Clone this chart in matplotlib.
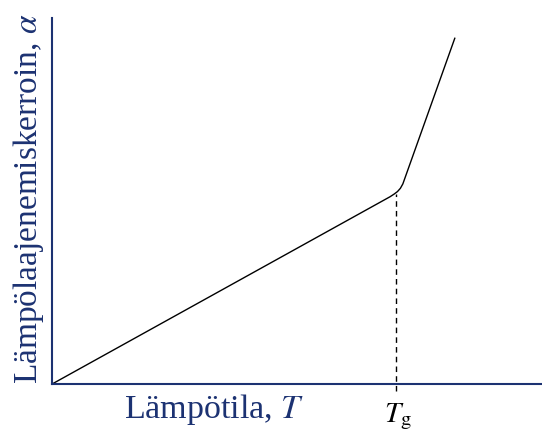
import matplotlib
matplotlib.use('Agg')
import matplotlib.pyplot as plt

plt.rcParams['font.family'] = ['Liberation Serif', 'DejaVu Serif']
plt.rcParams['mathtext.fontset'] = 'stix'

navy = '#1c3272'

# expansion coefficient vs temperature, glass transition knee near Tg
temp = [0.0, 6.90, 6.98, 7.05, 7.11, 7.16, 8.22]
alpha = [0.0, 5.12, 5.19, 5.26, 5.35, 5.47, 9.45]
tg = 7.03
tg_alpha = 5.20

fig = plt.figure(figsize=(5.42, 4.32), dpi=100)
ax = fig.add_axes([0.096, 0.111, 0.904, 0.847])

ax.plot(temp, alpha, color='black', lw=1.0)
ax.plot([tg, tg], [-0.2, tg_alpha], color='black', lw=1.0, ls=(0, (4, 3)), clip_on=False)

ax.set_xlim(0, 10)
ax.set_ylim(0, 10)
ax.set_xticks([])
ax.set_yticks([])
for side in ['top', 'right']:
    ax.spines[side].set_visible(False)
for side in ['left', 'bottom']:
    ax.spines[side].set_color(navy)
    ax.spines[side].set_linewidth(1.5)

W, H = 542, 432
fig.text(214 / W, 1 - 418 / H, 'Lämpötila, $T$', color=navy, fontsize=24.5,
         ha='center', va='baseline')
fig.text(384 / W, 1 - 422 / H, r'$T_{\mathrm{g}}$', color='black', fontsize=21,
         ha='left', va='baseline')
fig.text(29 / W, 1 - 199 / H, 'Lämpölaajenemiskerroin, $\\alpha$', color=navy,
         fontsize=24, rotation=90, ha='center', va='center')

fig.savefig('out.png', dpi=100)
